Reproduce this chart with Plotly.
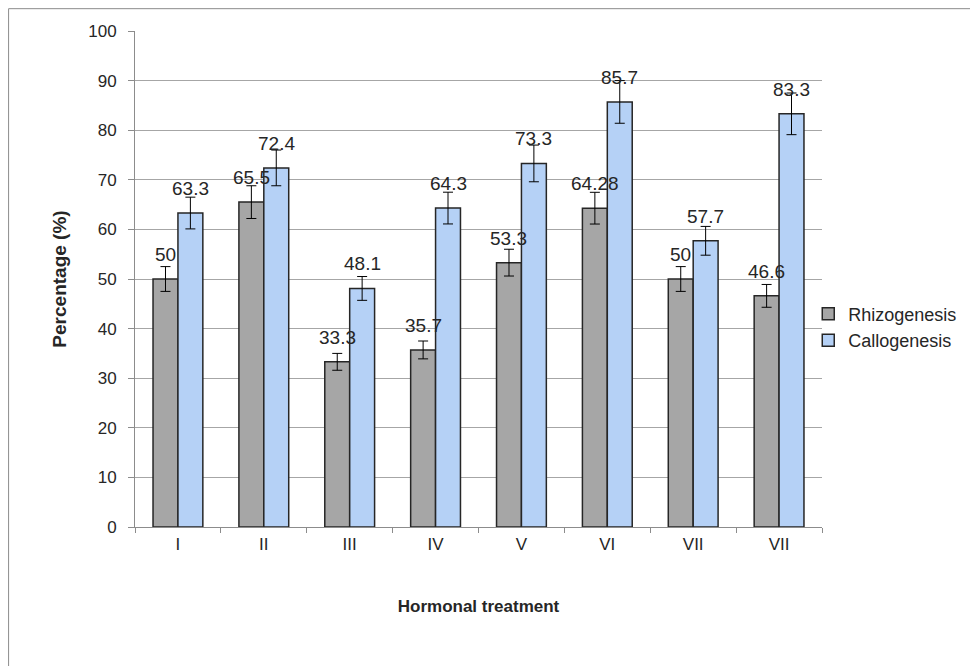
import plotly.graph_objects as go

categories = ["I", "II", "III", "IV", "V", "VI", "VII", "VII "]
tick_text = ["I", "II", "III", "IV", "V", "VI", "VII", "VII"]
rhizo = [50, 65.5, 33.3, 35.7, 53.3, 64.28, 50, 46.6]
callo = [63.3, 72.4, 48.1, 64.3, 73.3, 85.7, 57.7, 83.3]
rhizo_labels = ["50", "65.5", "33.3", "35.7", "53.3", "64.28", "50", "46.6"]
callo_labels = ["63.3", "72.4", "48.1", "64.3", "73.3", "85.7", "57.7", "83.3"]
rhizo_err = [2.5, 3.3, 1.7, 1.8, 2.7, 3.2, 2.5, 2.3]
callo_err = [3.2, 3.6, 2.4, 3.2, 3.7, 4.3, 2.9, 4.2]

FONT = "Liberation Sans"
TXT = "#262626"
fig = go.Figure()
fig.add_trace(go.Bar(
    x=categories, y=rhizo, name="Rhizogenesis",
    marker=dict(color="#a6a6a6", line=dict(color="#262626", width=1.5)),
    error_y=dict(type="data", array=rhizo_err, color="black", thickness=1, width=5),
))
fig.add_trace(go.Bar(
    x=categories, y=callo, name="Callogenesis",
    marker=dict(color="#b5d1f6", line=dict(color="#262626", width=1.5)),
    error_y=dict(type="data", array=callo_err, color="black", thickness=1, width=5),
))

for i, c in enumerate(categories):
    fig.add_annotation(x=c, y=rhizo[i], text=rhizo_labels[i], xshift=-12.5, yshift=12,
                       yanchor="bottom", showarrow=False, font=dict(size=19, color=TXT, family=FONT))
    fig.add_annotation(x=c, y=callo[i], text=callo_labels[i], xshift=12.5, yshift=12,
                       yanchor="bottom", showarrow=False, font=dict(size=19, color=TXT, family=FONT))

fig.add_shape(type="rect", xref="paper", yref="paper", x0=-0.184, x1=1.4, y0=-0.5, y1=1.045,
              line=dict(color="#8c8c8c", width=1), fillcolor="rgba(0,0,0,0)", layer="below")

fig.update_layout(
    width=970, height=658,
    margin=dict(l=127, r=156, t=23, b=139),
    plot_bgcolor="white", paper_bgcolor="white",
    barmode="group", bargap=0.42, bargroupgap=0,
    font=dict(family=FONT, size=17, color=TXT),
    showlegend=True,
    legend=dict(x=0.98, y=0.403, xanchor="left", yanchor="middle",
                font=dict(size=18, family=FONT, color=TXT), itemwidth=30, tracegroupgap=0,
                bgcolor="rgba(0,0,0,0)"),
    xaxis=dict(
        tickmode="array", tickvals=categories, ticktext=tick_text,
        tickson="boundaries", ticks="outside", ticklen=5, tickcolor="#8c8c8c",
        showline=True, linecolor="#8c8c8c", linewidth=1,
        title=dict(text="<b>Hormonal treatment</b>", font=dict(size=17, family=FONT, color=TXT), standoff=46),
        tickfont=dict(size=17), ticklabelstandoff=2,
    ),
    yaxis=dict(
        range=[0, 100], dtick=10, ticks="outside", ticklen=6, tickcolor="#8c8c8c",
        showline=True, linecolor="#8c8c8c", linewidth=1,
        showgrid=True, gridcolor="#a6a6a6", gridwidth=1, zeroline=False,
        title=dict(text="<b>Percentage (%)</b>", font=dict(size=19, family=FONT, color=TXT), standoff=16),
        tickfont=dict(size=17), ticklabelstandoff=8,
    ),
)

fig.write_html("out.html")
